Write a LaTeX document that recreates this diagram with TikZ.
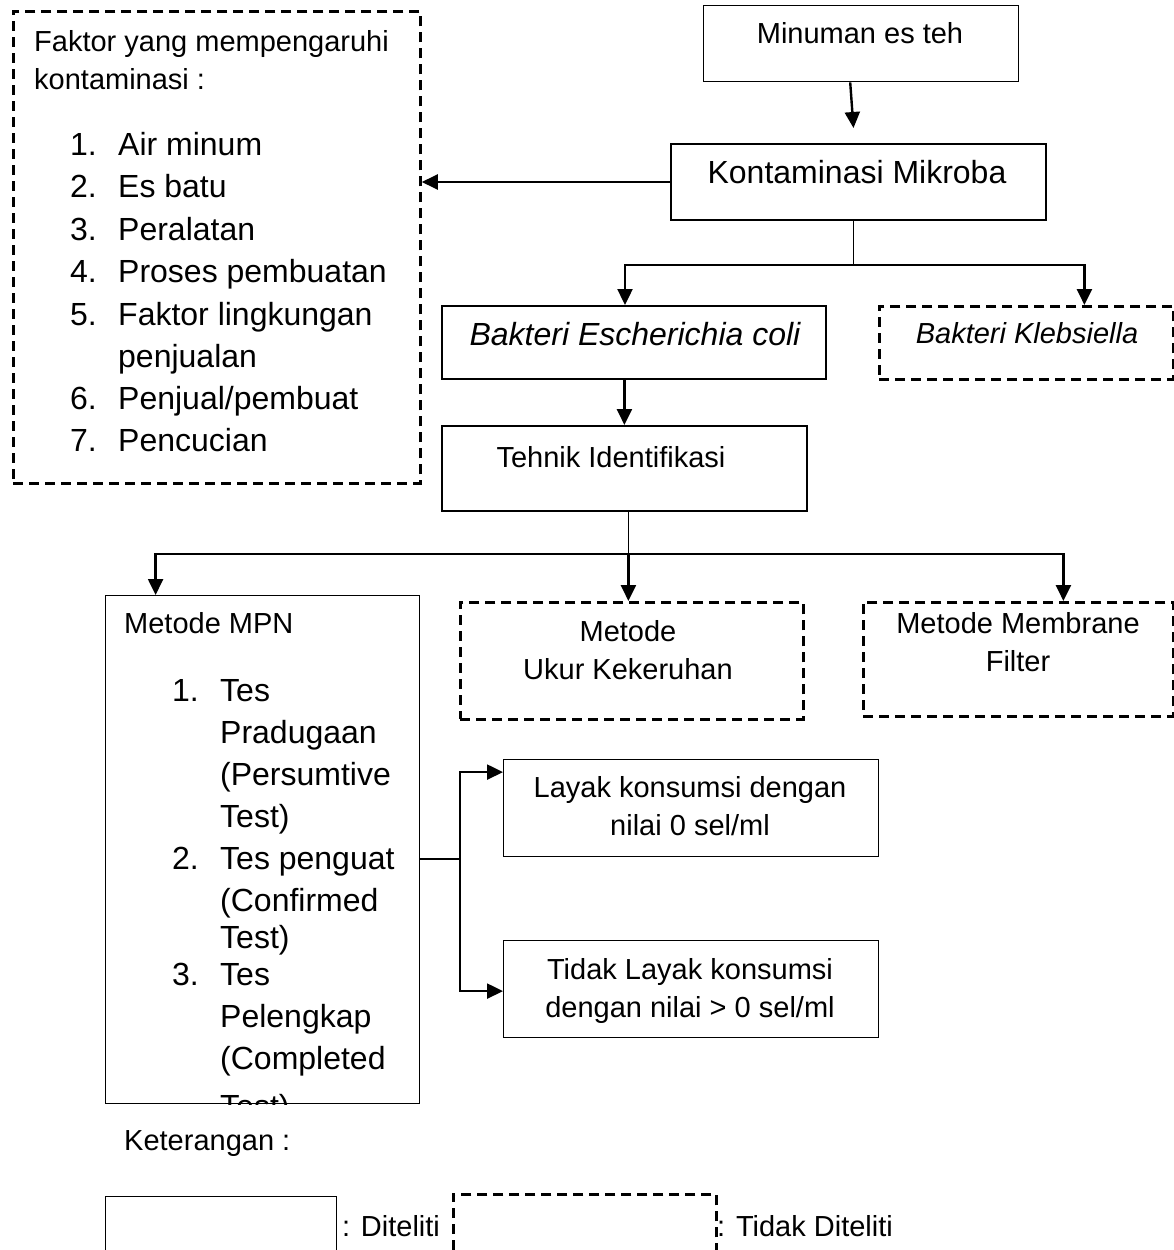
\documentclass[tikz,border=0pt]{standalone}
\usepackage{fontspec}
\setmainfont{Liberation Sans}
\usepackage{tikz}
\usetikzlibrary{arrows.meta, positioning, calc}
\newcommand{\kecil}{\fontsize{29}{38}\selectfont}
\newcommand{\besar}{\fontsize{32}{42}\selectfont}

\begin{document}
\begin{tikzpicture}[
    x=1pt, y=-1pt,
    kotak/.style={draw, line width=1.4pt, anchor=north west, inner sep=0pt},
    putus/.style={kotak, line width=2.8pt, dash pattern=on 10pt off 6pt},
    teks/.style={font=\kecil, inner sep=0pt, anchor=base},
    teksb/.style={teks, font=\besar},
    panah/.style={-{Triangle[length=16pt,width=15pt]}, line width=2.4pt},
    garis/.style={line width=1.8pt}
  ]
    \clip (0,0) rectangle (1174,1250);

    % kotak-kotak
    \node[putus, minimum width=407, minimum height=472] (faktor) at (12,10) {};
    \node[kotak, minimum width=315, minimum height=76] (minum) at (703,5) {};
    \node[kotak, line width=2pt, minimum width=375, minimum height=76] (kontam) at (670,143) {};
    \node[kotak, line width=2pt, minimum width=384, minimum height=73] (ecoli) at (441,305) {};
    \node[putus, minimum width=294, minimum height=73] (kleb) at (878,305) {};
    \node[kotak, line width=1.8pt, minimum width=365, minimum height=85] (tehnik) at (441,425) {};
    \node[kotak, line width=1.2pt, minimum width=314, minimum height=508] (mpn) at (105,595) {};
    \node[putus, minimum width=343, minimum height=117] (ukur) at (459,601) {};
    \node[putus, minimum width=310, minimum height=114] (membran) at (862,601) {};
    \node[kotak, line width=1.2pt, minimum width=375, minimum height=97] (layak) at (503,759) {};
    \node[kotak, line width=1.2pt, minimum width=375, minimum height=97] (tidak) at (503,940) {};
    \node[kotak, line width=1.2pt, minimum width=231, minimum height=100] (ketA) at (105,1196) {};
    \node[putus, minimum width=263, minimum height=100] (ketB) at (452,1193) {};

    % teks
    \node[teks, anchor=base west] (judul1) at (34,51) {Faktor yang mempengaruhi};
    \node[teks, anchor=base west] (judul2) at (34,89) {kontaminasi :};
    \foreach \y/\n/\t [count=\i] in {155/1./Air minum, 197/2./Es batu, 240/3./Peralatan,
                                     282/4./Proses pembuatan, 325/5./Faktor lingkungan,
                                     367//penjualan, 409/6./{Penjual/pembuat}, 451/7./Pencucian} {
      \node[teksb, anchor=base west] (fno\i) at (70,\y) {\n};
      \node[teksb, anchor=base west] (fitem\i) at (118,\y) {\t};
    }
    \node[teks] (tminum) at (860,43) {Minuman es teh};
    \node[teksb] (tkontam) at (857,183) {Kontaminasi Mikroba};
    \node[teksb, font=\besar\itshape] (tecoli) at (635,345) {Bakteri Escherichia coli};
    \node[teks, font=\kecil\itshape] (tkleb) at (1027,343) {Bakteri Klebsiella};
    \node[teks] (ttehnik) at (611,467) {Tehnik Identifikasi};
    \node[teks] (tukur1) at (628,641) {Metode};
    \node[teks] (tukur2) at (628,679) {Ukur Kekeruhan};
    \node[teks] (tmem1) at (1018,633) {Metode Membrane};
    \node[teks] (tmem2) at (1018,671) {Filter};
    \node[teks] (tlayak1) at (690,797) {Layak konsumsi dengan};
    \node[teks] (tlayak2) at (690,835) {nilai 0 sel/ml};
    \node[teks] (ttidak1) at (690,979) {Tidak Layak konsumsi};
    \node[teks] (ttidak2) at (690,1017) {dengan nilai > 0 sel/ml};
    \node[teks, anchor=base west] (tmpn) at (124,633) {Metode MPN};
    \begin{scope}
      \clip (mpn.north west) rectangle (mpn.south east);
      \foreach \y/\n/\t [count=\i] in {701/1./Tes, 743//Pradugaan, 785//(Persumtive, 827//Test),
                                       869/2./Tes penguat, 911//(Confirmed, 948//Test),
                                       985/3./Tes, 1027//Pelengkap, 1069//(Completed, 1117//Test)} {
        \node[teksb, anchor=base west] (mno\i) at (172,\y) {\n};
        \node[teksb, anchor=base west] (mitem\i) at (220,\y) {\t};
      }
    \end{scope}
    \node[teks, anchor=base west] (tket) at (124,1150) {Keterangan :};
    \node[teks, anchor=base west] (tketA) at (342,1236) {: Diteliti};
    \node[teks, anchor=base west] (tketB) at (717,1236) {: Tidak Diteliti};

    % panah
    \draw[panah] ([xshift=-11pt]minum.south) -- ([xshift=-5pt,yshift=15pt]kontam.north);
    \draw[panah] (kontam.west) -- (faktor.east |- kontam.west);
    \draw[garis] ([xshift=-5pt]kontam.south) -- ++(0,44) coordinate (cab1);
    \draw[panah] (cab1) -| ([xshift=-9pt]ecoli.north);
    \draw[panah] (cab1) -| ([xshift=58pt]kleb.north);
    \draw[panah] (tehnik.north |- ecoli.south) -- (tehnik.north);
    \draw[garis] ([xshift=4pt]tehnik.south) -- ++(0,42) coordinate (cab2);
    \draw[panah] (cab2) -| ([xshift=-107pt]mpn.north);
    \draw[panah] (cab2) -- (cab2 |- ukur.north);
    \draw[panah] (cab2) -| ([xshift=45pt]membran.north);
    \draw[garis] ([yshift=-9pt]mpn.east) -- ++(40,0) coordinate (cab3);
    \draw[panah] (cab3) |- ([yshift=36pt]layak.west);
    \draw[panah] (cab3) |- ([yshift=-2pt]tidak.west);
\end{tikzpicture}
\end{document}
